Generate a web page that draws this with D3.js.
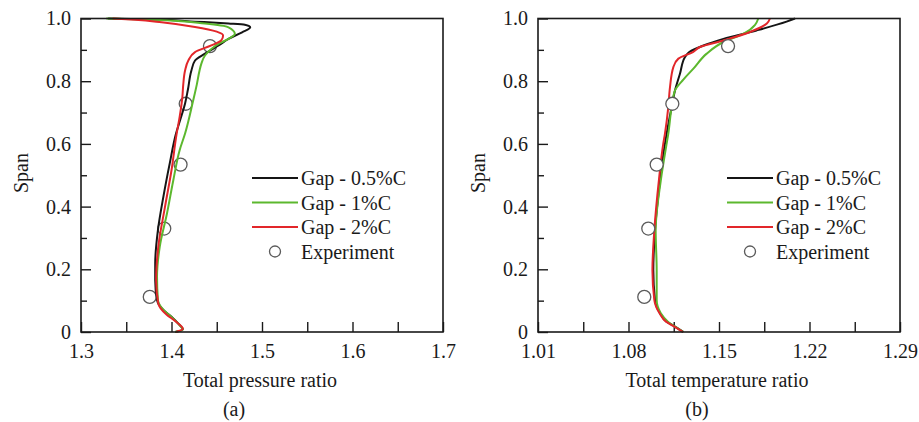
<html>
<head>
<meta charset="utf-8">
<script src="https://cdnjs.cloudflare.com/ajax/libs/d3/7.8.5/d3.min.js"></script>
<style>
	body { margin: 0; background: #fff; }
	svg text { font-family: "Liberation Serif", "Times New Roman", serif; fill: #1a1a1a; }
</style>
</head>
<body>
<svg id="chart" width="919" height="422"></svg>
<script>

// span axis (shared)
var spanTicks = [0, 0.2, 0.4, 0.6, 0.8, 1.0];
var spanLabels = ["0", "0.2", "0.4", "0.6", "0.8", "1.0"];
var spanMinor = [0.1, 0.3, 0.5, 0.7, 0.9];

// (a) total pressure ratio
var pressureTicks = [1.3, 1.4, 1.5, 1.6, 1.7];
var pressureLabels = ["1.3", "1.4", "1.5", "1.6", "1.7"];
var pressureMinor = [1.35, 1.45, 1.55, 1.65];

// (b) total temperature ratio
var temperatureTicks = [1.01, 1.08, 1.15, 1.22, 1.29];
var temperatureLabels = ["1.01", "1.08", "1.15", "1.22", "1.29"];
var temperatureMinor = [1.045, 1.115, 1.185, 1.255];

var seriesNames = ["Gap - 0.5%C", "Gap - 1%C", "Gap - 2%C"];
var seriesColors = ["#151515", "#5cb82e", "#e2262a"];

// [value, span]
var pressureGap05 = [[1.330,1.000],[1.380,0.997],[1.426,0.990],[1.463,0.984],[1.481,0.980],[1.487,0.972],[1.478,0.956],[1.463,0.935],[1.452,0.914],[1.437,0.888],[1.426,0.866],[1.422,0.834],[1.418,0.771],[1.415,0.729],[1.410,0.680],[1.405,0.633],[1.398,0.537],[1.391,0.431],[1.385,0.325],[1.382,0.219],[1.382,0.166],[1.384,0.102],[1.391,0.070],[1.400,0.049],[1.408,0.025],[1.4125,0.008],[1.404,0.000]];
var pressureGap1 = [[1.328,1.000],[1.380,0.996],[1.437,0.984],[1.463,0.972],[1.470,0.951],[1.463,0.935],[1.452,0.919],[1.444,0.903],[1.437,0.882],[1.433,0.856],[1.431,0.834],[1.428,0.790],[1.424,0.739],[1.415,0.633],[1.409,0.580],[1.402,0.484],[1.395,0.378],[1.387,0.272],[1.384,0.176],[1.385,0.102],[1.392,0.068],[1.400,0.048],[1.408,0.025],[1.4125,0.008],[1.404,0.000]];
var pressureGap2 = [[1.335,1.000],[1.360,0.996],[1.389,0.988],[1.426,0.973],[1.450,0.958],[1.457,0.946],[1.455,0.930],[1.444,0.914],[1.426,0.893],[1.4186,0.866],[1.415,0.834],[1.413,0.790],[1.412,0.749],[1.409,0.686],[1.4057,0.633],[1.400,0.516],[1.3928,0.399],[1.3854,0.272],[1.383,0.166],[1.3854,0.091],[1.3947,0.055],[1.404,0.035],[1.4125,0.010],[1.405,0.000]];

var temperatureGap05 = [[1.2088,1.000],[1.2023,0.990],[1.179,0.962],[1.1534,0.935],[1.138,0.914],[1.127,0.893],[1.1237,0.877],[1.1198,0.824],[1.116,0.771],[1.1134,0.718],[1.1095,0.633],[1.1082,0.601],[1.1044,0.484],[1.1005,0.325],[1.0992,0.197],[1.1005,0.102],[1.1044,0.060],[1.1095,0.033],[1.116,0.017],[1.1224,0.000]];
var temperatureGap1 = [[1.1804,1.000],[1.1779,0.980],[1.1688,0.951],[1.1534,0.925],[1.1405,0.888],[1.1302,0.840],[1.1224,0.805],[1.116,0.771],[1.1134,0.718],[1.1108,0.633],[1.1095,0.601],[1.105,0.484],[1.101,0.325],[1.1018,0.197],[1.1018,0.102],[1.105,0.060],[1.1105,0.033],[1.116,0.017],[1.1224,0.000]];
var temperatureGap2 = [[1.1894,1.000],[1.187,0.984],[1.174,0.957],[1.1534,0.930],[1.1353,0.909],[1.1298,0.893],[1.1186,0.872],[1.1147,0.845],[1.1121,0.781],[1.1108,0.718],[1.1082,0.633],[1.1069,0.601],[1.1035,0.484],[1.100,0.325],[1.0985,0.197],[1.100,0.102],[1.104,0.060],[1.109,0.033],[1.1155,0.017],[1.122,0.000]];

var expSpan = [0.912, 0.728, 0.534, 0.330, 0.112];
var expPressure = [1.4425, 1.4157, 1.410, 1.392, 1.376];
var expTemperature = [1.157, 1.1139, 1.1018, 1.0953, 1.0922];

var svg = d3.select("#chart");
var plotTop = 18.5, plotBottom = 332;

function drawPanel(o){
	var x = d3.scaleLinear().domain(o.domain).range([o.left, o.right]);
	var y = d3.scaleLinear().domain([0, 1]).range([plotBottom, plotTop]);
	var g = svg.append("g");

	function styleAxis(a){
		a.select(".domain").remove();
		a.selectAll("text").style("font-size", "20px");
		a.selectAll("line").attr("stroke", "#1a1a1a").attr("stroke-width", 1.4);
	}

	// x axis ticks (inward)
	g.append("g").attr("transform", "translate(0," + plotBottom + ")")
		.call(d3.axisBottom(x).tickValues(o.ticks).tickSize(-10).tickSizeOuter(0).tickPadding(12)
			.tickFormat(function(d, i){ return o.labels[i]; }))
		.call(styleAxis);
	g.append("g").attr("transform", "translate(0," + plotBottom + ")")
		.call(d3.axisBottom(x).tickValues(o.minor).tickSize(-10).tickSizeOuter(0).tickFormat(""))
		.call(styleAxis);

	// y axis
	g.append("g").attr("transform", "translate(" + o.left + ",0)")
		.call(d3.axisLeft(y).tickValues(spanTicks).tickSize(-10).tickSizeOuter(0).tickPadding(10)
			.tickFormat(function(d, i){ return spanLabels[i]; }))
		.call(styleAxis);
	g.append("g").attr("transform", "translate(" + o.left + ",0)")
		.call(d3.axisLeft(y).tickValues(spanMinor).tickSize(-6).tickSizeOuter(0).tickFormat(""))
		.call(styleAxis);

	var line = d3.line()
		.x(function(d){ return x(d[0]); })
		.y(function(d){ return y(d[1]); })
		.curve(d3.curveMonotoneY);

	var exp = expSpan.map(function(s, i){ return [o.exp[i], s]; });

	function circles(){
		g.selectAll(".exp").data(exp).enter().append("circle")
			.attr("cx", function(d){ return x(d[0]); })
			.attr("cy", function(d){ return y(d[1]); })
			.attr("r", 6.5)
			.attr("fill", o.expFill)
			.attr("stroke", "#5a5a5a")
			.attr("stroke-width", 1.3);
	}

	if(o.expBelow) circles();

	g.selectAll(".curve").data(o.series).enter().append("path")
		.attr("d", line)
		.attr("fill", "none")
		.attr("stroke", function(d, i){ return seriesColors[i]; })
		.attr("stroke-width", 2);

	if(!o.expBelow) circles();

	// frame
	g.append("rect")
		.attr("x", o.left).attr("y", plotTop)
		.attr("width", o.right - o.left).attr("height", plotBottom - plotTop)
		.attr("fill", "none").attr("stroke", "#1a1a1a").attr("stroke-width", 1.6);

	// labels
	g.append("text")
		.attr("transform", "translate(" + (o.left - 60) + ",173) rotate(-90)")
		.attr("dy", "0.35em")
		.attr("text-anchor", "middle").style("font-size", "20px").text("Span");
	g.append("text").attr("x", (o.left + o.right) / 2 - 2).attr("y", 387)
		.attr("text-anchor", "middle").style("font-size", "20px").text(o.title);
	g.append("text").attr("x", o.tagX).attr("y", 416)
		.attr("text-anchor", "middle").style("font-size", "20px").text(o.tag);

	// legend
	var lx = o.legendX, rows = [178, 202.5, 227, 251.5];
	seriesNames.forEach(function(n, i){
		g.append("line").attr("x1", lx).attr("x2", lx + 46)
			.attr("y1", rows[i]).attr("y2", rows[i])
			.attr("stroke", seriesColors[i]).attr("stroke-width", 2);
		g.append("text").attr("x", lx + 49).attr("y", rows[i] + 7)
			.style("font-size", "20px").text(n);
	});
	g.append("circle").attr("cx", lx + 23).attr("cy", rows[3]).attr("r", 5.5)
		.attr("fill", "#fff").attr("stroke", "#5a5a5a").attr("stroke-width", 1.3);
	g.append("text").attr("x", lx + 49).attr("y", rows[3] + 7)
		.style("font-size", "20px").text("Experiment");
}

drawPanel({
	left: 81, right: 443, domain: [1.3, 1.7],
	ticks: pressureTicks, labels: pressureLabels, minor: pressureMinor,
	series: [pressureGap05, pressureGap1, pressureGap2],
	exp: expPressure, expFill: "none", expBelow: true,
	title: "Total pressure ratio", tag: "(a)", tagX: 234, legendX: 252
});

drawPanel({
	left: 538, right: 900, domain: [1.01, 1.29],
	ticks: temperatureTicks, labels: temperatureLabels, minor: temperatureMinor,
	series: [temperatureGap05, temperatureGap1, temperatureGap2],
	exp: expTemperature, expFill: "#fff", expBelow: false,
	title: "Total temperature ratio", tag: "(b)", tagX: 697, legendX: 727
});

</script>
</body>
</html>
